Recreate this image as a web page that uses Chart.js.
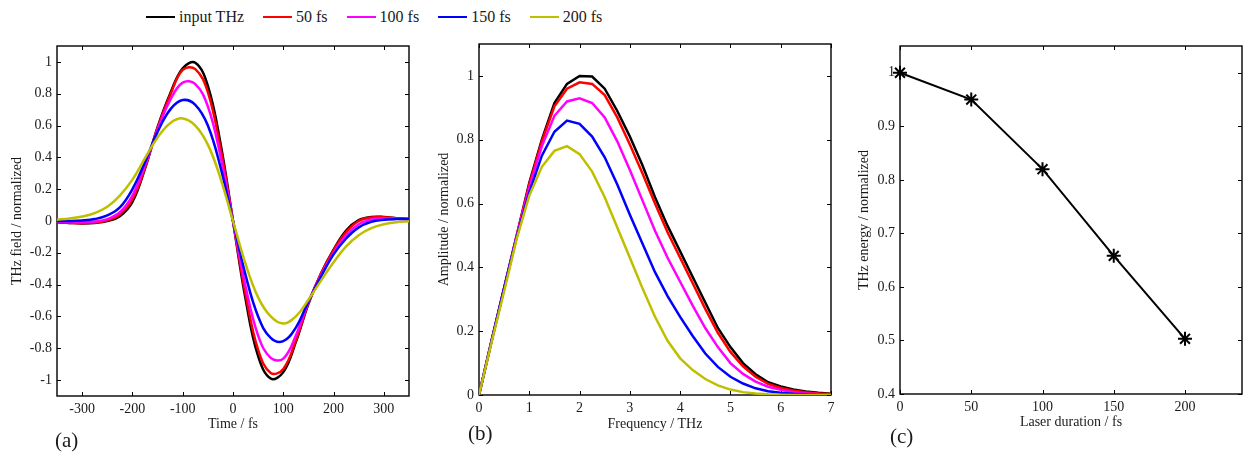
<!DOCTYPE html>
<html>
<head>
<meta charset="utf-8">
<script src="https://cdn.jsdelivr.net/npm/chart.js@4/dist/chart.umd.min.js"></script>
<style>
  body { margin: 0; width: 1251px; height: 455px; position: relative; background: #fff; overflow: hidden;
         font-family: "Liberation Serif", "Times New Roman", serif; color: #1a1a1a; }
  canvas { position: absolute; top: 0; }
  #legend { position: absolute; left: 146px; top: 7px; display: flex; gap: 19px; font-size: 16px; line-height: 20px; }
  #legend .item { display: flex; align-items: center; }
  #legend .item i { display: inline-block; width: 29px; height: 2.5px; margin-right: 4px; }
  .tag { position: absolute; font-size: 21px; line-height: 21px; }
</style>
</head>
<body>
<div id="legend"></div>
<canvas id="chartA" width="420" height="455" style="left:0"></canvas>
<canvas id="chartB" width="420" height="455" style="left:420px"></canvas>
<canvas id="chartC" width="411" height="455" style="left:840px"></canvas>
<div class="tag" style="left:55px; top:430px">(a)</div>
<div class="tag" style="left:468px; top:423px">(b)</div>
<div class="tag" style="left:890px; top:426px">(c)</div>
<script>
// series
const seriesNames  = ['input THz', '50 fs', '100 fs', '150 fs', '200 fs'];
const seriesColors = ['#000000', '#ff0000', '#ff00ff', '#0000ff', '#bfbf00'];

// (a) time domain
const timeFs = [-350,-325,-300,-275,-250,-225,-200,-175,-150,-125,-100,-75,-50,-25,0,25,50,75,100,125,150,175,200,225,250,275,300,325,350];
const fieldInput = [-0.008,-0.012,-0.015,-0.012,0.0,0.03,0.12,0.33,0.59,0.80,0.96,0.995,0.85,0.49,0,-0.49,-0.85,-0.99,-0.95,-0.76,-0.52,-0.33,-0.18,-0.06,0.005,0.025,0.025,0.018,0.012];
const field50  = [-0.008,-0.012,-0.014,-0.010,0.004,0.04,0.135,0.335,0.585,0.79,0.95,0.955,0.81,0.46,0,-0.46,-0.81,-0.955,-0.93,-0.75,-0.515,-0.33,-0.185,-0.07,0.0,0.022,0.024,0.018,0.012];
const field100 = [-0.004,-0.007,-0.008,-0.003,0.012,0.055,0.16,0.35,0.575,0.76,0.87,0.86,0.72,0.41,0,-0.41,-0.72,-0.86,-0.865,-0.72,-0.51,-0.34,-0.2,-0.09,-0.02,0.01,0.016,0.014,0.01];
const field150 = [0.0,0.0,0.003,0.012,0.035,0.085,0.2,0.37,0.56,0.70,0.76,0.73,0.60,0.34,0,-0.34,-0.60,-0.735,-0.755,-0.67,-0.505,-0.35,-0.21,-0.11,-0.04,-0.005,0.008,0.012,0.012];
const field200 = [0.008,0.015,0.028,0.05,0.09,0.16,0.26,0.395,0.525,0.615,0.645,0.60,0.48,0.27,0,-0.27,-0.48,-0.60,-0.645,-0.60,-0.495,-0.375,-0.26,-0.16,-0.09,-0.045,-0.02,-0.008,-0.002];

// (b) spectra
const freqTHz = [0,0.25,0.5,0.75,1,1.25,1.5,1.75,2,2.25,2.5,2.75,3,3.25,3.5,3.75,4,4.25,4.5,4.75,5,5.25,5.5,5.75,6,6.25,6.5,6.75,7];
const ampInput = [0,0.17,0.335,0.5,0.665,0.8,0.915,0.975,1.0,0.998,0.96,0.89,0.81,0.72,0.62,0.53,0.45,0.37,0.29,0.21,0.15,0.1,0.065,0.04,0.027,0.017,0.011,0.007,0.004];
const amp50  = [0,0.17,0.335,0.5,0.66,0.795,0.905,0.96,0.98,0.975,0.94,0.87,0.785,0.695,0.6,0.51,0.43,0.35,0.27,0.195,0.135,0.09,0.057,0.035,0.022,0.014,0.009,0.005,0.003];
const amp100 = [0,0.17,0.335,0.5,0.65,0.78,0.875,0.92,0.93,0.915,0.87,0.795,0.705,0.61,0.515,0.43,0.355,0.28,0.21,0.15,0.1,0.066,0.042,0.026,0.016,0.009,0.005,0.003,0.001];
const amp150 = [0,0.17,0.335,0.495,0.635,0.75,0.825,0.86,0.85,0.81,0.745,0.66,0.565,0.475,0.385,0.31,0.245,0.185,0.13,0.088,0.057,0.036,0.021,0.012,0.007,0.004,0.002,0.001,0];
const amp200 = [0,0.165,0.325,0.49,0.625,0.715,0.765,0.78,0.755,0.7,0.62,0.525,0.43,0.335,0.245,0.17,0.115,0.078,0.05,0.03,0.017,0.009,0.005,0.002,0.001,0,0,0,0];

// (c) energy vs laser duration
const durationFs = [0, 50, 100, 150, 200];
const energyNorm = [1.0, 0.95, 0.82, 0.658, 0.503];

// tick labels
const timeTicks   = [-300,-200,-100,0,100,200,300];
const fieldTicks  = [-1,-0.8,-0.6,-0.4,-0.2,0,0.2,0.4,0.6,0.8,1];
const freqTicks   = [0,1,2,3,4,5,6,7];
const ampTicks    = [0,0.2,0.4,0.6,0.8,1];
const durTicks    = [0,50,100,150,200];
const energyTicks = [0.4,0.5,0.6,0.7,0.8,0.9,1];

Chart.defaults.font.family = '"Liberation Serif", "Times New Roman", serif';
Chart.defaults.font.size = 14;
Chart.defaults.color = '#1a1a1a';

document.getElementById('legend').innerHTML = seriesNames.map((n, i) =>
  `<span class="item"><i style="background:${seriesColors[i]}"></i>${n}</span>`).join('');

// box + inward ticks, matlab style
const frame = {
  id: 'frame',
  beforeDatasetsDraw(chart) {
    const {ctx, chartArea: a, scales: {x, y}} = chart;
    ctx.save();
    ctx.strokeStyle = '#000';
    ctx.lineWidth = 1.4;
    ctx.strokeRect(a.left, a.top, a.right - a.left, a.bottom - a.top);
    ctx.lineWidth = 1;
    ctx.beginPath();
    x.ticks.forEach(t => {
      const px = Math.round(x.getPixelForValue(t.value)) + 0.5;
      ctx.moveTo(px, a.bottom); ctx.lineTo(px, a.bottom - 4);
      ctx.moveTo(px, a.top);    ctx.lineTo(px, a.top + 4);
    });
    y.ticks.forEach(t => {
      const py = Math.round(y.getPixelForValue(t.value)) + 0.5;
      ctx.moveTo(a.left, py);  ctx.lineTo(a.left + 4, py);
      ctx.moveTo(a.right, py); ctx.lineTo(a.right - 4, py);
    });
    ctx.stroke();
    ctx.restore();
  }
};

function axes(o) {
  return {
    x: {
      type: 'linear', min: o.xmin, max: o.xmax,
      grid: { display: false, drawTicks: false }, border: { display: false },
      afterBuildTicks: s => { s.ticks = o.xticks.map(v => ({ value: v })); },
      afterFit: s => { s.height = o.xh; },
      ticks: { padding: 5, maxRotation: 0, autoSkip: false, callback: v => String(v) },
      title: { display: true, text: o.xtitle, padding: { top: 0, bottom: o.xtpad } }
    },
    y: {
      type: 'linear', min: o.ymin, max: o.ymax,
      grid: { display: false, drawTicks: false }, border: { display: false },
      afterBuildTicks: s => { s.ticks = o.yticks.map(v => ({ value: v })); },
      afterFit: s => { s.width = o.yw; },
      ticks: { padding: 5, autoSkip: false, callback: v => String(v) },
      title: { display: true, text: o.ytitle, padding: { top: o.ytpad, bottom: 0 } }
    }
  };
}

function lines(xs, series, tension) {
  return series.map((arr, i) => ({
    label: seriesNames[i],
    data: xs.map((x, j) => ({ x: x, y: arr[j] })),
    borderColor: seriesColors[i],
    borderWidth: 2.5,
    pointRadius: 0,
    tension: tension,
    fill: false
  }));
}

const common = {
  responsive: false,
  animation: false,
  devicePixelRatio: 1,
  plugins: { legend: { display: false }, tooltip: { enabled: false } }
};

new Chart(document.getElementById('chartA'), {
  type: 'line',
  data: { datasets: lines(timeFs, [fieldInput, field50, field100, field150, field200], 0.4).reverse() },
  options: Object.assign({}, common, {
    layout: { padding: { left: 0, top: 46, right: 11, bottom: 0 } },
    scales: axes({ xmin: -350, xmax: 350, xticks: timeTicks, xh: 59, xtitle: 'Time / fs', xtpad: 22,
                   ymin: -1.1, ymax: 1.1, yticks: fieldTicks, yw: 57, ytitle: 'THz field / normalized', ytpad: 9 })
  }),
  plugins: [frame]
});

new Chart(document.getElementById('chartB'), {
  type: 'line',
  data: { datasets: lines(freqTHz, [ampInput, amp50, amp100, amp150, amp200], 0).reverse() },
  options: Object.assign({}, common, {
    layout: { padding: { left: 0, top: 44, right: 9, bottom: 0 } },
    scales: axes({ xmin: 0, xmax: 7, xticks: freqTicks, xh: 60, xtitle: 'Frequency / THz', xtpad: 22,
                   ymin: 0, ymax: 1.1, yticks: ampTicks, yw: 59, ytitle: 'Amplitude / normalized', ytpad: 16 })
  }),
  plugins: [frame]
});

new Chart(document.getElementById('chartC'), {
  type: 'line',
  data: {
    datasets: [{
      data: durationFs.map((d, i) => ({ x: d, y: energyNorm[i] })),
      borderColor: '#000', borderWidth: 2,
      pointStyle: 'star', pointRadius: 7, pointBorderWidth: 2, pointBorderColor: '#000',
      tension: 0, clip: false
    }]
  },
  options: Object.assign({}, common, {
    layout: { padding: { left: 0, top: 46, right: 1, bottom: 0 } },
    scales: axes({ xmin: 0, xmax: 240, xticks: durTicks, xh: 61, xtitle: 'Laser duration / fs', xtpad: 24,
                   ymin: 0.4, ymax: 1.05, yticks: energyTicks, yw: 60, ytitle: 'THz energy / normalized', ytpad: 16 })
  }),
  plugins: [frame]
});
</script>
</body>
</html>
